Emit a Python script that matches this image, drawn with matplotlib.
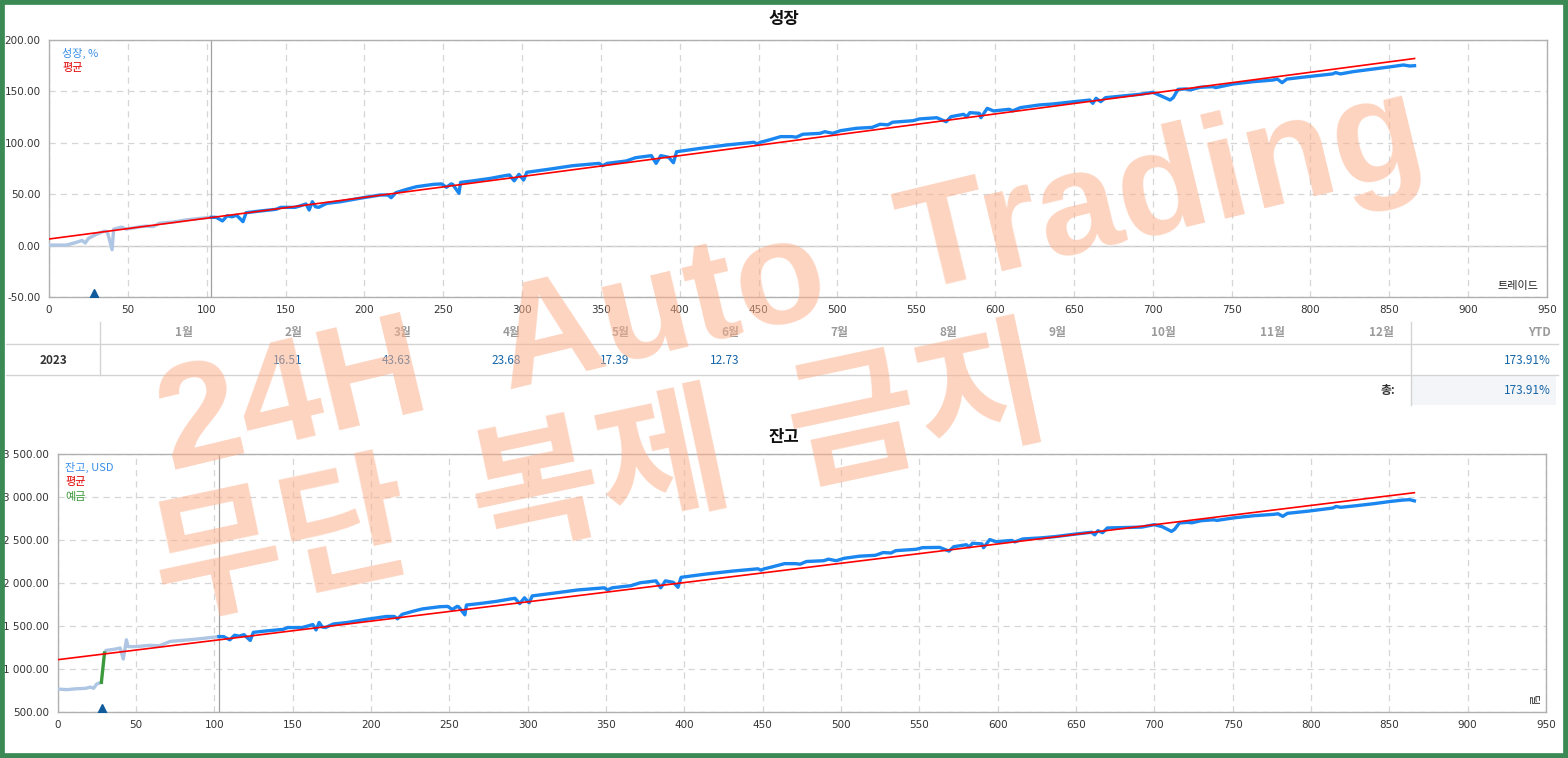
import matplotlib
matplotlib.use('Agg')
import matplotlib.pyplot as plt
from matplotlib.patches import Rectangle
from matplotlib.lines import Line2D
from matplotlib.ticker import FuncFormatter, MultipleLocator

plt.rcParams['font.family'] = ['Noto Sans CJK KR', 'DejaVu Sans']

# ---------------- data ----------------
split_trade = 103
deposit_marker_x = 28.5

growth_light_x = [0, 11, 17, 21, 23, 25, 30, 35, 37, 40, 41, 46, 49, 58, 62, 66, 70, 79, 87, 96, 103]
growth_light_y = [0.5, 0.5, 3, 5, 2.5, 7, 11, 14, 13.5, -4, 16, 18, 16, 18.4, 19, 18.5, 21.7, 23, 25, 26.5, 27.5]

main_x = [103, 106, 110, 113, 116, 119, 123, 125, 133, 144, 147, 156, 159, 163, 165, 167, 169, 171, 176, 185,
          197, 210, 215, 217, 220, 227, 233, 244, 249, 252, 255, 256, 260, 261, 269, 280, 289, 292, 295, 298,
          301, 303, 318, 332, 349, 351, 354, 366, 372, 382, 385, 388, 393, 396, 398, 413, 430, 447, 449, 451,
          455, 464, 471, 474, 478, 489, 492, 497, 502, 512, 522, 527, 532, 535, 548, 552, 563, 569, 572, 580,
          582, 584, 590, 591, 595, 599, 609, 611, 616, 628, 637, 650, 660, 662, 664, 667, 670, 692, 700, 705,
          711, 713, 716, 721, 724, 730, 738, 740, 751, 764, 776, 779, 782, 785, 798, 814, 816, 819, 827, 840,
          851, 859, 863, 866]
growth_main_y = [27.5, 27.5, 24, 29, 28, 29.5, 23.3, 32, 33.5, 35.3, 37.2, 37.2, 38.5, 40.5, 34.6, 42.7, 37.8, 37.2, 41, 42.7,
                 46, 49.2, 49.2, 46.6, 51.5, 54.8, 57.3, 59.6, 60, 56.7, 60, 59.6, 50.9, 61.5, 63, 65.4, 68, 68.7, 63, 69.3,
                 63.8, 71.3, 74.5, 77.7, 80, 77.7, 80, 82.3, 85.5, 87.5, 80, 87.5, 85.9, 80.6, 91.3, 94.6, 97.9, 100.5, 99, 100.5,
                 102, 106, 106, 105.5, 108.3, 109.2, 110.8, 109.2, 111.8, 114.1, 115, 118, 117.5, 120, 121.5, 123.2, 124.4, 120.5, 125.4, 127.7,
                 125.4, 129.3, 128.7, 124.4, 133.5, 131, 132.6, 131, 134.2, 136.8, 137.8, 140, 141.6, 138.4, 143.3, 140, 143.9, 147.2, 149.1, 145.8,
                 141.6, 144, 152, 152.4, 151.5, 154, 154.6, 153.7, 157.2, 159.5, 161, 162, 158.5, 162, 164.3, 167, 168.3, 167, 169.2, 171.8,
                 174, 175.7, 174.7, 175]

growth_avg_x = [0, 866]
growth_avg_y = [6.4, 182.0]

bal_pre_x = [0, 6, 12, 18, 21, 23, 25, 28]
bal_pre_y = [767, 760, 770, 775, 790, 775, 825, 845]
deposit_x = [28, 30]
deposit_y = [845, 1186]
bal_post_x = [30, 31, 37, 40, 42, 44, 45, 50, 59, 65, 72, 80, 91, 103]
bal_post_y = [1186, 1216, 1232, 1244, 1116, 1340, 1260, 1260, 1275, 1270, 1321, 1333, 1352, 1377]
bal_main_y = [1377, 1377, 1339, 1393, 1382, 1399, 1332, 1426, 1442, 1461, 1482, 1482, 1496, 1517, 1454, 1541, 1488, 1482, 1523, 1541,
              1577, 1611, 1611, 1583, 1636, 1672, 1699, 1724, 1728, 1692, 1728, 1724, 1630, 1744, 1760, 1786, 1814, 1822, 1760, 1828,
              1769, 1850, 1885, 1919, 1944, 1919, 1944, 1969, 2003, 2025, 1944, 2025, 2008, 1950, 2066, 2102, 2137, 2165, 2149, 2165,
              2182, 2225, 2225, 2219, 2250, 2259, 2277, 2259, 2287, 2312, 2322, 2354, 2349, 2376, 2392, 2411, 2414, 2371, 2422, 2445,
              2420, 2462, 2455, 2410, 2505, 2480, 2495, 2478, 2512, 2525, 2540, 2570, 2590, 2560, 2608, 2585, 2640, 2650, 2678, 2655,
              2600, 2625, 2698, 2705, 2700, 2725, 2735, 2728, 2758, 2783, 2798, 2805, 2775, 2810, 2835, 2872, 2890, 2880, 2895, 2922,
              2949, 2965, 2969, 2955]
bal_avg_x = [0, 866]
bal_avg_y = [1108, 3050]

months = ['1월', '2월', '3월', '4월', '5월', '6월', '7월', '8월', '9월', '10월', '11월', '12월']
year_label = '2023'
month_values = ['', '16.51', '43.63', '23.68', '17.39', '12.73', '', '', '', '', '', '']
ytd_value = '173.91%'
total_value = '173.91%'

# ---------------- figure ----------------
W, H = 1568, 758
fig = plt.figure(figsize=(W / 100, H / 100), dpi=100)
fig.patch.set_facecolor('white')

def fx(px):
    return px / W

def fy(py):
    return 1 - py / H

BLUE = '#1a86f0'
LIGHT = '#aec6e4'
RED = '#ff0000'
GREEN = '#3c9a3c'
GRID = '#d6d6d6'
SPINE = '#b0b0b0'

def style_axes(ax):
    ax.set_facecolor('white')
    for s in ax.spines.values():
        s.set_color(SPINE)
        s.set_linewidth(1.0)
    ax.grid(True, color=GRID, linestyle=(0, (5, 4)), linewidth=0.9)
    ax.tick_params(length=0, labelsize=7.5, colors='#333333', pad=6)
    for lab in ax.get_xticklabels() + ax.get_yticklabels():
        lab.set_family('DejaVu Sans')
    ax.set_xlim(0, 950)
    ax.xaxis.set_major_locator(MultipleLocator(50))

# ---- top chart ----
ax1 = fig.add_axes([fx(49), fy(297), fx(1547) - fx(49), fy(40) - fy(297)])
ax1.set_ylim(-50, 200)
ax1.yaxis.set_major_locator(MultipleLocator(50))
ax1.yaxis.set_major_formatter(FuncFormatter(lambda v, p: f'{v:.2f}'))
style_axes(ax1)
ax1.axhline(0, color='#c8c8c8', lw=1.0, zorder=1)
ax1.axvline(split_trade, color='#a0a0a0', lw=0.9, zorder=2)
ax1.plot(growth_light_x, growth_light_y, color=LIGHT, lw=2.4, zorder=3, solid_joinstyle='round')
ax1.plot(main_x, growth_main_y, color=BLUE, lw=2.4, zorder=3, solid_joinstyle='round')
ax1.plot(growth_avg_x, growth_avg_y, color=RED, lw=1.2, zorder=4)
ax1.plot([deposit_marker_x], [-50], marker='^', ms=11, color='#0f5b9c', clip_on=True, zorder=5)
ax1.text(0.009, 0.97, '성장, %', transform=ax1.transAxes, color='#3a8ee8', fontsize=8, va='top')
ax1.text(0.009, 0.912, '평균', transform=ax1.transAxes, color='#e00000', fontsize=8, va='top')
ax1.text(0.994, 0.025, '트레이드', transform=ax1.transAxes, color='#222222', fontsize=8, ha='right', va='bottom')
fig.text(fx(784), fy(19), '성장', ha='center', va='center', fontsize=12, fontweight='bold', color='#111111')

# ---- bottom chart ----
ax2 = fig.add_axes([fx(57.5), fy(712), fx(1546) - fx(57.5), fy(454) - fy(712)])
ax2.set_ylim(500, 3500)
ax2.yaxis.set_major_locator(MultipleLocator(500))
ax2.yaxis.set_major_formatter(FuncFormatter(lambda v, p: f'{v:,.2f}'.replace(',', ' ')))
style_axes(ax2)
ax2.axvline(split_trade, color='#a0a0a0', lw=0.9, zorder=2)
ax2.plot(bal_pre_x, bal_pre_y, color=LIGHT, lw=2.4, zorder=3, solid_joinstyle='round')
ax2.plot(bal_post_x, bal_post_y, color=LIGHT, lw=2.4, zorder=3, solid_joinstyle='round')
ax2.plot(deposit_x, deposit_y, color=GREEN, lw=2.4, zorder=3)
ax2.plot(main_x, bal_main_y, color=BLUE, lw=2.4, zorder=3, solid_joinstyle='round')
ax2.plot(bal_avg_x, bal_avg_y, color=RED, lw=1.2, zorder=4)
ax2.plot([deposit_marker_x], [500], marker='^', ms=11, color='#0f5b9c', clip_on=True, zorder=5)
ax2.text(0.005, 0.97, '잔고, USD', transform=ax2.transAxes, color='#3a8ee8', fontsize=8, va='top')
ax2.text(0.005, 0.912, '평균', transform=ax2.transAxes, color='#e00000', fontsize=8, va='top')
ax2.text(0.005, 0.854, '예금', transform=ax2.transAxes, color='#3c9a3c', fontsize=8, va='top')
ax2.text(0.994, 0.025, '딜', transform=ax2.transAxes, color='#222222', fontsize=8, ha='right', va='bottom', rotation=270)
fig.text(fx(784), fy(437), '잔고', ha='center', va='center', fontsize=12, fontweight='bold', color='#111111')

# ---- table ----
line_col = '#d4d4d4'
fig.add_artist(Rectangle((fx(1411), fy(405)), fx(1556) - fx(1411), fy(376) - fy(405),
                         transform=fig.transFigure, facecolor='#f4f5f8', edgecolor='none'))
for yy in (344, 375):
    fig.add_artist(Line2D([fx(6), fx(1558)], [fy(yy), fy(yy)], color=line_col, lw=1.0))
fig.add_artist(Line2D([fx(100), fx(100)], [fy(322), fy(375)], color=line_col, lw=1.0))
fig.add_artist(Line2D([fx(1411), fx(1411)], [fy(322), fy(405)], color=line_col, lw=1.0))

for i, (m, v) in enumerate(zip(months, month_values)):
    xr = 193 + i * 109.2
    fig.text(fx(xr), fy(333), m, ha='right', va='center', fontsize=8.5, color='#9a9a9a', fontweight='bold')
    if v:
        fig.text(fx(xr), fy(360), v, ha='right', va='center', fontsize=8.5, color='#1565a8')
fig.text(fx(1551), fy(333), 'YTD', ha='right', va='center', fontsize=8.5, color='#9a9a9a', fontweight='bold')
fig.text(fx(53), fy(360), year_label, ha='center', va='center', fontsize=8.5, color='#333333', fontweight='bold')
fig.text(fx(1551), fy(360), ytd_value, ha='right', va='center', fontsize=8.5, color='#1565a8')
fig.text(fx(1395), fy(390), '총:', ha='right', va='center', fontsize=8.5, color='#333333', fontweight='bold')
fig.text(fx(1551), fy(390), total_value, ha='right', va='center', fontsize=8.5, color='#1565a8')

# ---- watermark ----
wm_col = '#fcb08c'
fig.text(fx(792), fy(283), '24H  Auto  Trading', ha='center', va='center', rotation=13.5,
         fontsize=106, fontweight='bold', color=wm_col, alpha=0.55, family=['Liberation Sans', 'DejaVu Sans'],
         rotation_mode='anchor', zorder=10)
fig.text(fx(600), fy(480), '무단  복제  금지', ha='center', va='center', rotation=12,
         fontsize=102, fontweight='bold', color=wm_col, alpha=0.55, rotation_mode='anchor', zorder=10)

# ---- border ----
fig.add_artist(Rectangle((0, 0), 1, 1, transform=fig.transFigure, fill=False,
                         edgecolor='#3b8a56', linewidth=7, zorder=20))

fig.savefig('out.png', dpi=100, facecolor='white')
